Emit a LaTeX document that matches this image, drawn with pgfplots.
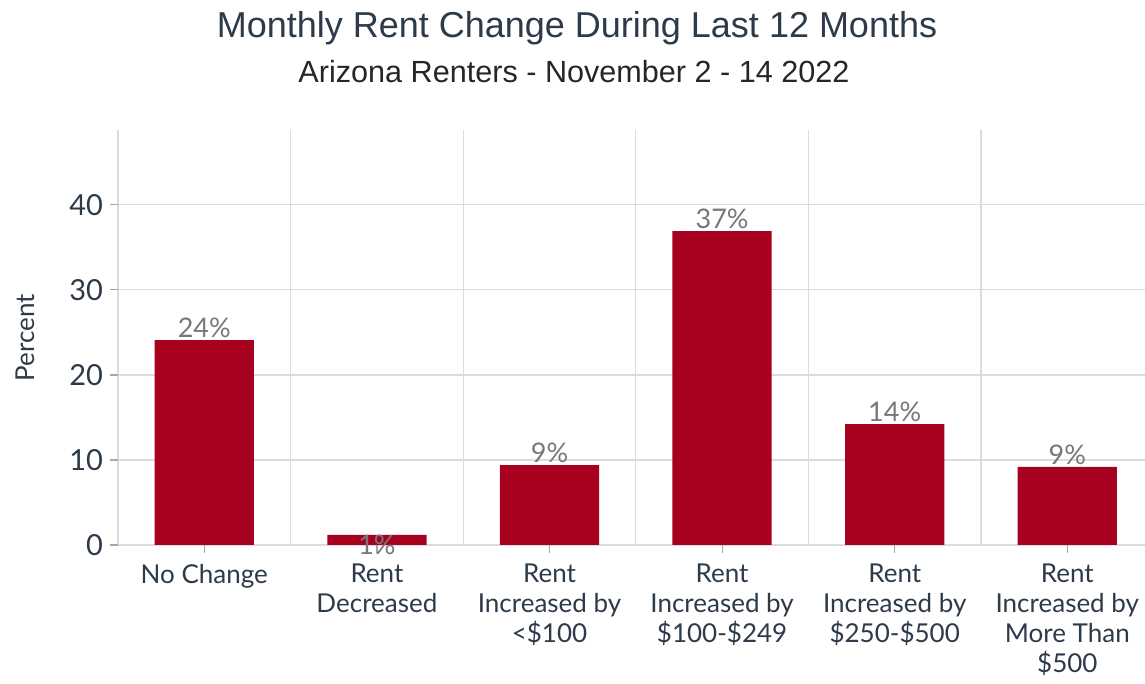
\documentclass[border=0pt]{standalone}
\usepackage{fontspec}
\setmainfont{Lato}
\newfontfamily\titlefont{Liberation Sans}
\usepackage{pgfplots}
\pgfplotsset{compat=1.18}
\definecolor{barred}{RGB}{167,1,31}
\definecolor{slate}{RGB}{44,58,74}
\definecolor{gridgray}{RGB}{220,220,220}
\definecolor{valgray}{RGB}{120,120,120}

\begin{document}
\begin{tikzpicture}
\path[use as bounding box] (-59pt,-69.5pt) rectangle (513.5pt,272.5pt);
\begin{axis}[
  at={(0,0)}, anchor=south west,
  scale only axis,
  width=513.5pt, height=207.5pt,
  xmin=-0.5, xmax=5.45,
  ymin=0, ymax=48.8,
  axis line style={draw=none},
  xtick={0,1,2,3,4,5},
  xticklabels={No Change, Rent\\Decreased, Rent\\Increased by\\<\$100,
    Rent\\Increased by\\\$100-\$249, Rent\\Increased by\\\$250-\$500,
    Rent\\Increased by\\More Than\\\$500},
  minor xtick={-0.5,0.5,1.5,2.5,3.5,4.5,5.5},
  xminorgrids, minor tick length=0pt,
  ytick={0,10,20,30,40},
  ymajorgrids,
  grid style={gridgray, line width=0.6pt},
  minor grid style={gridgray, line width=0.6pt},
  tick align=outside, major tick length=4pt,
  xtick pos=bottom, ytick pos=left,
  tick style={gray!70, line width=0.6pt},
  xticklabel style={font=\fontsize{13}{15}\selectfont, text=slate, align=center, anchor=north, yshift=-2pt},
  yticklabel style={font=\fontsize{14.5}{16}\selectfont, text=slate},
  /pgf/number format/assume math mode=true,
  ylabel={Percent},
  ylabel style={font=\fontsize{13}{15}\selectfont, text=slate, at={(axis description cs:-0.0906,0.5)}, anchor=center},
  ybar, bar width=0.575,
  nodes near coords={\pgfmathprintnumber[fixed,precision=0]{\pgfplotspointmeta}\%},
  every node near coord/.append style={font=\fontsize{13.5}{15}\selectfont, text=valgray, anchor=south, inner sep=1pt},
  coordinate style/.condition={\coordindex==1}{yshift=-11pt},
]
\addplot[fill=barred, draw=none] coordinates {
  (0,24.1) (1,1.2) (2,9.4) (3,36.9) (4,14.2) (5,9.2)
};
\end{axis}
\node[font=\titlefont\fontsize{18}{22}\selectfont, text=slate] at (229.5pt,258.5pt) {Monthly Rent Change During Last 12 Months};
\node[font=\titlefont\fontsize{15.3}{18}\selectfont, text=black!85] at (228pt,236.5pt) {Arizona Renters - November 2 - 14 2022};
\end{tikzpicture}
\end{document}
